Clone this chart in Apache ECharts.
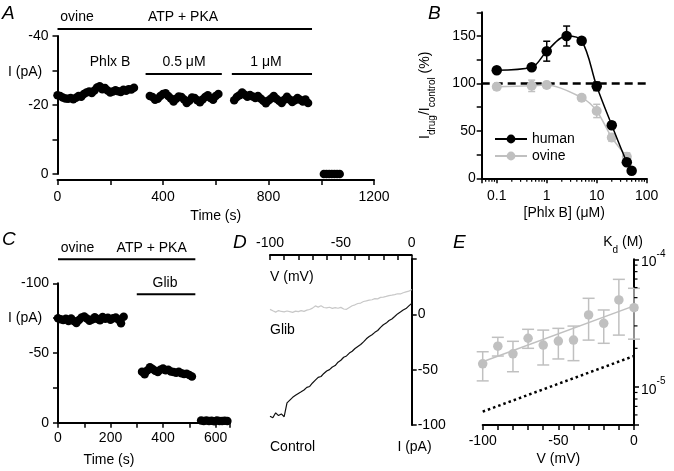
<!DOCTYPE html>
<html>
<head>
<meta charset="utf-8">
<script src="https://cdn.jsdelivr.net/npm/echarts@6/dist/echarts.min.js"></script>
<style>
  html, body { margin: 0; padding: 0; background: #fff; }
  #chart { width: 674px; height: 471px; }
</style>
</head>
<body>
<div id="chart"></div>
<script>
// ---- Panel A: ovine current (pA) vs time (s) ----
const aControl = [[0,-22.8],[10,-22.6],[20,-22.2],[30,-21.9],[40,-21.8],[50,-22.0],[60,-21.7],[70,-22.1],[80,-22.6],[90,-22.4],
  [100,-23.2],[110,-23.6],[120,-23.9],[130,-23.5],[140,-24.2],[150,-25.1],[160,-25.4],[170,-24.6],[180,-24.9],[190,-24.2],
  [200,-23.6],[210,-23.9],[220,-24.3],[230,-24.0],[240,-23.8],[250,-24.4],[260,-24.1],[270,-24.6],[280,-24.5],[290,-25.0]];
const aHalfMicro = [[350,-22.6],[360,-22.3],[370,-21.5],[380,-21.8],[390,-22.6],[400,-23.2],[410,-23.4],[420,-22.6],[430,-21.9],
  [440,-21.0],[450,-21.8],[460,-22.5],[470,-22.3],[480,-21.6],[490,-20.6],[500,-21.2],[510,-22.2],[520,-22.0],[530,-21.4],
  [540,-20.8],[550,-21.6],[560,-22.3],[570,-22.8],[580,-22.0],[590,-21.5],[600,-22.6],[610,-23.2]];
const aOneMicro = [[670,-21.4],[680,-22.3],[690,-22.8],[700,-23.6],[710,-23.0],[720,-22.4],[730,-22.9],[740,-22.5],[750,-22.0],
  [760,-22.6],[770,-21.9],[780,-21.2],[790,-20.5],[800,-21.3],[810,-21.9],[820,-22.6],[830,-21.8],[840,-21.2],[850,-20.6],
  [860,-21.5],[870,-22.4],[880,-21.6],[890,-20.9],[900,-21.4],[910,-22.0],[920,-21.5],[930,-21.0],[940,-21.6],[950,-20.6]];
const aBlocked = [[1010,0],[1020,0],[1030,0],[1040,0],[1050,0],[1060,0],[1070,0]];
// treatment bars: [from (s), to (s), level (pA)]
const aPeriods = [[0,965,-42],[334,623,-29],[661,965,-29]];

// ---- Panel B: Idrug/Icontrol (%) vs [Phlx B] (uM) ----
const bHumanConc = [0.1, 0.5, 1, 2.5, 5, 10, 20, 40, 50];
const bHuman     = [114, 117, 134, 150, 145, 97, 56, 17, 8];
const bHumanErr  = [2, 3, 10.5, 10.5, 3, 4.5, 3, 3, 2];
const bOvineConc = [0.1, 0.5, 1, 5, 10, 20, 40];
const bOvine     = [96.5, 97.5, 98.3, 85, 71, 43, 22.8];
const bOvineErr  = [3, 6, 3, 3, 7, 4, 4];
const bMinorTicks = [0.06,0.07,0.08,0.09,0.2,0.3,0.4,0.5,0.6,0.7,0.8,0.9,2,3,4,5,6,7,8,9,20,30,40,50,60,70,80,90];

// ---- Panel C: ovine current with glibenclamide ----
const cControl = [[0,-75.0],[10,-74.2],[20,-73.6],[30,-74.5],[40,-73.0],[50,-74.8],[60,-72.9],[70,-71.5],[80,-73.6],[90,-75.5],
  [100,-76.2],[110,-74.8],[120,-73.2],[130,-74.0],[140,-75.6],[150,-74.4],[160,-73.5],[170,-75.8],[180,-74.6],[190,-75.2],
  [200,-73.8],[210,-74.9],[220,-75.5],[230,-74.1],[240,-71.3],[250,-76.0]];
const cGlib = [[320,-36.5],[330,-34.8],[340,-37.5],[350,-39.8],[360,-38.6],[370,-37.2],[380,-36.4],[390,-37.9],[400,-38.8],
  [410,-37.6],[420,-37.9],[430,-36.8],[440,-36.3],[450,-35.9],[460,-36.5],[470,-35.4],[480,-35.0],[490,-35.2],[500,-34.3],[510,-33.2]];
const cBlocked = [[545,-1.5],[555,-1.2],[565,-1.6],[575,-1.3],[585,-1.4],[595,-1.1],[605,-1.5],[615,-1.3],[625,-1.2],[635,-1.4],[645,-1.3]];
const cPeriods = [[0,523,-117.2],[300,523,-92.1]];

// ---- Panel D: I-V ramps ----
const dVolt = [-100,-98,-96,-94,-92,-90,-88,-86,-84,-82,-80,-78,-76,-74,-72,-70,-68,-66,-64,-62,-60,-58,-56,-54,-52,
  -50,-48,-46,-44,-42,-40,-38,-36,-34,-32,-30,-28,-26,-24,-22,-20,-18,-16,-14,-12,-10,-8,-6,-4,-2,0];
const dGlib = [4.5,3.2,2.0,3.4,2.6,2.2,3.0,2.4,1.8,2.9,2.4,3.3,2.7,3.8,4.4,5.6,7.6,6.5,7.8,6.2,5.8,6.4,5.4,6.0,5.5,
  6.3,4.8,4.5,6.2,7.8,8.6,9.8,10.2,11.6,12.1,12.8,13.2,14.2,14.0,15.3,15.6,16.2,16.9,17.3,17.8,18.6,18.4,19.5,20.3,20.9,22.4];
const dControl = [-92.0,-93.5,-89.0,-91.5,-90.0,-92.5,-80.0,-77.5,-75.0,-73.2,-71.5,-70.0,-68.4,-66.0,-65.2,-62.0,-59.5,-57.0,
  -56.2,-53.4,-51.2,-50.0,-47.6,-46.3,-43.2,-41.5,-38.8,-37.6,-35.0,-33.4,-30.9,-29.0,-27.3,-24.9,-22.1,-20.0,-18.4,-16.3,
  -14.6,-11.8,-9.4,-7.9,-5.6,-4.2,-2.0,0.4,2.1,3.9,5.2,7.6,9.9];

// ---- Panel E: Kd (M) vs V (mV) ----
const eVolt   = [-100, -90, -80, -70, -60, -50, -40, -30, -20, -10, 0];
const eKd     = [1.51e-5, 2.08e-5, 1.81e-5, 2.40e-5, 2.12e-5, 2.28e-5, 2.32e-5, 3.66e-5, 3.14e-5, 4.80e-5, 4.17e-5];
const eKdLow  = [1.11e-5, 1.74e-5, 1.31e-5, 2.00e-5, 1.48e-5, 1.65e-5, 1.60e-5, 2.32e-5, 2.19e-5, 2.54e-5, 2.36e-5];
const eKdHigh = [1.88e-5, 2.44e-5, 2.27e-5, 2.82e-5, 2.78e-5, 2.87e-5, 2.99e-5, 4.94e-5, 4.00e-5, 6.96e-5, 5.92e-5];
const eFitVolt = [-100, 0];
const eFitKd   = [1.57e-5, 4.31e-5];
const eHumanKd = [6.37e-6, 1.74e-5];
const eMinorTicks = [6e-6,7e-6,8e-6,9e-6,2e-5,3e-5,4e-5,5e-5,6e-5,7e-5,8e-5,9e-5];

const FONT = '"Liberation Sans", Arial, sans-serif';
const BLACK = '#000';
const GREY = '#c0c0c0';

const chart = echarts.init(document.getElementById('chart'), null, { renderer: 'canvas' });

// axis builder, all axes share the same black Origin-like look
function axis(o) {
  return {
    gridIndex: o.grid, type: o.type || 'value', position: o.position,
    min: o.min, max: o.max, interval: o.interval, inverse: !!o.inverse, offset: o.offset || 0,
    logBase: 10,
    name: o.name, nameLocation: 'middle', nameGap: o.nameGap, nameRotate: o.nameRotate,
    nameTextStyle: Object.assign({ color: BLACK, fontSize: 14, fontFamily: FONT }, o.nameStyle || {}),
    axisLine: { show: true, onZero: false, lineStyle: { color: BLACK, width: 2 } },
    axisTick: { show: true, inside: !!o.tickInside, length: 5, lineStyle: { color: BLACK, width: 1.5 } },
    axisLabel: { show: true, color: BLACK, fontSize: 14, fontFamily: FONT, margin: o.margin == null ? 8 : o.margin,
      formatter: o.fmt, rich: o.rich, hideOverlap: false },
    splitLine: { show: false },
    minorTick: { show: false }
  };
}

function errorBarItem(capHalf, color) {
  return function (params, api) {
    const x = api.value(0);
    const lo = api.coord([x, api.value(1)]);
    const hi = api.coord([x, api.value(2)]);
    const style = { stroke: color, lineWidth: 1.5 };
    return { type: 'group', children: [
      { type: 'line', shape: { x1: hi[0], y1: hi[1], x2: lo[0], y2: lo[1] }, style: style },
      { type: 'line', shape: { x1: hi[0] - capHalf, y1: hi[1], x2: hi[0] + capHalf, y2: hi[1] }, style: style },
      { type: 'line', shape: { x1: lo[0] - capHalf, y1: lo[1], x2: lo[0] + capHalf, y2: lo[1] }, style: style }
    ]};
  };
}

function periodBarItem(params, api) {
  const a = api.coord([api.value(0), api.value(2)]);
  const b = api.coord([api.value(1), api.value(2)]);
  return { type: 'line', shape: { x1: a[0], y1: a[1], x2: b[0], y2: b[1] }, style: { stroke: BLACK, lineWidth: 2 } };
}

// minor ticks for the log axes (dx, dy = tick direction in px)
function minorTickItem(dx, dy) {
  return function (params, api) {
    const p = api.coord([api.value(0), api.value(1)]);
    return { type: 'line', shape: { x1: p[0], y1: p[1], x2: p[0] + dx, y2: p[1] + dy }, style: { stroke: BLACK, lineWidth: 1.2 } };
  };
}

function txt(x, y, text, align, extra) {
  return { type: 'text', x: x, y: y, silent: true, z: 10,
    style: Object.assign({ text: text, fill: BLACK, font: '14px ' + FONT,
      align: align || 'left', textAlign: align || 'left', verticalAlign: 'middle', textVerticalAlign: 'middle' }, extra || {}) };
}
function letter(x, y, s) {
  return txt(x, y, s, 'left', { font: 'italic 19px ' + FONT });
}

const pow10Label = function (v) {
  const e = Math.log10(v);
  return Math.abs(e - Math.round(e)) < 1e-6 ? '{b|10}{s|' + Math.round(e) + '}' : '';
};

const dot = { color: BLACK, opacity: 1 };

const option = {
  backgroundColor: '#fff',
  animation: false,
  textStyle: { fontFamily: FONT },
  grid: [
    { left: 57.5, right: 300, top: 36, bottom: 297 },      // A
    { left: 481.7, right: 27.3, top: 12.3, bottom: 292.7 }, // B
    { left: 58, right: 444, top: 283.3, bottom: 48.3 },    // C
    { left: 270, right: 262.3, top: 259, bottom: 46 },     // D
    { left: 482.7, right: 40, top: 259.3, bottom: 46 }     // E
  ],
  xAxis: [
    axis({ grid: 0, min: 0, max: 1200, interval: 200, offset: 6, margin: 10,
      fmt: v => (v % 400 === 0 ? String(v) : ''), name: 'Time (s)', nameGap: 29 }),
    axis({ grid: 1, type: 'log', min: 0.05, max: 100, margin: 11,
      fmt: v => { const e = Math.log10(v); return Math.abs(e - Math.round(e)) < 1e-6 ? String(+v.toPrecision(3)) : ''; },
      name: '[Phlx B] (\u03bcM)', nameGap: 28 }),
    axis({ grid: 2, min: 0, max: 655, interval: 100, margin: 8,
      fmt: v => (v % 200 === 0 ? String(v) : '') }),
    axis({ grid: 3, position: 'top', min: -100, max: 0, interval: 10, offset: 4, tickInside: true, margin: 5,
      fmt: v => (v % 50 === 0 ? String(v) : '') }),
    axis({ grid: 4, min: -100, max: 0, interval: 10, margin: 9,
      fmt: v => (v % 50 === 0 ? String(v) : ''), name: 'V (mV)', nameGap: 27 })
  ],
  yAxis: [
    axis({ grid: 0, min: -40, max: 0, interval: 10, inverse: true, margin: 9,
      fmt: v => (v % 20 === 0 ? String(v) : '') }),
    axis({ grid: 1, min: 0, max: 175, interval: 25, margin: 6,
      fmt: v => (v % 50 === 0 && v <= 150 ? String(v) : ''),
      name: '{m|I}{s|drug}{m|/I}{s|control}{m| (%)}', nameGap: 44, nameRotate: 90,
      nameStyle: { rich: {
        m: { fontSize: 14, fontFamily: FONT, color: BLACK, lineHeight: 20, verticalAlign: 'top' },
        s: { fontSize: 10, fontFamily: FONT, color: BLACK, lineHeight: 12, verticalAlign: 'bottom' } } } }),
    axis({ grid: 2, min: -100, max: 0, interval: 25, inverse: true, margin: 9,
      fmt: v => (v % 50 === 0 ? String(v) : '') }),
    axis({ grid: 3, position: 'right', min: -100, max: 50, interval: 50, margin: 6,
      fmt: v => (v <= 0 ? String(v) : '') }),
    axis({ grid: 4, type: 'log', position: 'right', min: 5e-6, max: 1e-4, margin: 7, fmt: pow10Label,
      rich: {
        b: { fontSize: 14, fontFamily: FONT, color: BLACK, lineHeight: 20, verticalAlign: 'bottom' },
        s: { fontSize: 10, fontFamily: FONT, color: BLACK, lineHeight: 12, verticalAlign: 'top' } } })
  ],
  legend: {
    orient: 'vertical', left: 489, top: 127, itemWidth: 32, itemHeight: 11, itemGap: 3,
    textStyle: { color: BLACK, fontSize: 14, fontFamily: FONT },
    data: ['human', 'ovine']
  },
  series: [
    // A
    { type: 'scatter', xAxisIndex: 0, yAxisIndex: 0, symbolSize: 8.5, itemStyle: dot, data: aControl },
    { type: 'scatter', xAxisIndex: 0, yAxisIndex: 0, symbolSize: 8.5, itemStyle: dot, data: aHalfMicro },
    { type: 'scatter', xAxisIndex: 0, yAxisIndex: 0, symbolSize: 8.5, itemStyle: dot, data: aOneMicro },
    { type: 'scatter', xAxisIndex: 0, yAxisIndex: 0, symbolSize: 8.5, itemStyle: dot, data: aBlocked },
    { type: 'custom', xAxisIndex: 0, yAxisIndex: 0, renderItem: periodBarItem, encode: { x: [0, 1], y: 2 }, silent: true, data: aPeriods },

    // B
    { type: 'custom', xAxisIndex: 1, yAxisIndex: 1, renderItem: errorBarItem(3.5, GREY), encode: { x: 0, y: [1, 2] }, z: 1,
      data: bOvineConc.map((c, i) => [c, bOvine[i] - bOvineErr[i], bOvine[i] + bOvineErr[i]]) },
    { name: 'ovine', type: 'line', xAxisIndex: 1, yAxisIndex: 1, smooth: 0.3, symbol: 'circle', symbolSize: 10, z: 2,
      itemStyle: { color: GREY }, lineStyle: { color: GREY, width: 1.5 },
      data: bOvineConc.map((c, i) => [c, bOvine[i]]) },
    { type: 'custom', xAxisIndex: 1, yAxisIndex: 1, renderItem: errorBarItem(3.5, BLACK), encode: { x: 0, y: [1, 2] }, z: 3,
      data: bHumanConc.map((c, i) => [c, bHuman[i] - bHumanErr[i], bHuman[i] + bHumanErr[i]]) },
    { name: 'human', type: 'line', xAxisIndex: 1, yAxisIndex: 1, smooth: 0.35, symbol: 'circle', symbolSize: 10.5, z: 4,
      itemStyle: { color: BLACK }, lineStyle: { color: BLACK, width: 1.5 },
      data: bHumanConc.map((c, i) => [c, bHuman[i]]),
      markLine: { silent: true, symbol: 'none', label: { show: false }, z: 0,
        lineStyle: { color: BLACK, type: [8, 5], width: 2.5 }, data: [{ yAxis: 100 }] } },
    { type: 'custom', xAxisIndex: 1, yAxisIndex: 1, renderItem: minorTickItem(0, 3.5), encode: { x: 0, y: 1 }, silent: true,
      data: bMinorTicks.map(v => [v, 0]) },

    // C
    { type: 'scatter', xAxisIndex: 2, yAxisIndex: 2, symbolSize: 8.5, itemStyle: dot, data: cControl },
    { type: 'scatter', xAxisIndex: 2, yAxisIndex: 2, symbolSize: 8.5, itemStyle: dot, data: cGlib },
    { type: 'scatter', xAxisIndex: 2, yAxisIndex: 2, symbolSize: 8.5, itemStyle: dot, data: cBlocked },
    { type: 'custom', xAxisIndex: 2, yAxisIndex: 2, renderItem: periodBarItem, encode: { x: [0, 1], y: 2 }, silent: true, data: cPeriods },

    // D
    { type: 'line', xAxisIndex: 3, yAxisIndex: 3, symbol: 'none', lineStyle: { color: '#c8c8c8', width: 1.2 },
      data: dVolt.map((v, i) => [v, dGlib[i]]) },
    { type: 'line', xAxisIndex: 3, yAxisIndex: 3, symbol: 'none', lineStyle: { color: '#111', width: 1.2 },
      data: dVolt.map((v, i) => [v, dControl[i]]) },

    // E
    { type: 'line', xAxisIndex: 4, yAxisIndex: 4, symbol: 'none', lineStyle: { color: GREY, width: 1.5 },
      data: eFitVolt.map((v, i) => [v, eFitKd[i]]) },
    { type: 'line', xAxisIndex: 4, yAxisIndex: 4, symbol: 'none', lineStyle: { color: BLACK, width: 2.5, type: [2.5, 3] },
      data: eFitVolt.map((v, i) => [v, eHumanKd[i]]) },
    { type: 'custom', xAxisIndex: 4, yAxisIndex: 4, renderItem: errorBarItem(6, GREY), encode: { x: 0, y: [1, 2] },
      data: eVolt.map((v, i) => [v, eKdLow[i], eKdHigh[i]]) },
    { type: 'scatter', xAxisIndex: 4, yAxisIndex: 4, symbolSize: 9.5, itemStyle: { color: GREY, opacity: 1 },
      data: eVolt.map((v, i) => [v, eKd[i]]) },
    { type: 'custom', xAxisIndex: 4, yAxisIndex: 4, renderItem: minorTickItem(3.5, 0), encode: { x: 0, y: 1 }, silent: true,
      data: eMinorTicks.map(v => [0, v]) }
  ],
  graphic: [
    letter(2, 14, 'A'),
    txt(77, 16.7, 'ovine', 'center'),
    txt(183, 16.7, 'ATP + PKA', 'center'),
    txt(110, 62.5, 'Phlx B', 'center'),
    txt(184, 62.5, '0.5 \u03bcM', 'center'),
    txt(266, 62.5, '1 \u03bcM', 'center'),
    txt(8, 71.7, 'I (pA)', 'left'),

    letter(428, 14, 'B'),

    letter(2, 240, 'C'),
    txt(77.5, 248.3, 'ovine', 'center'),
    txt(151.7, 248.3, 'ATP + PKA', 'center'),
    txt(165, 283.3, 'Glib', 'center'),
    txt(8, 318.3, 'I (pA)', 'left'),
    txt(109, 460, 'Time (s)', 'center'),

    letter(233, 243, 'D'),
    txt(270, 276.7, 'V (mV)', 'left'),
    txt(270, 330, 'Glib', 'left'),
    txt(270, 446.7, 'Control', 'left'),
    txt(414.5, 446.7, 'I (pA)', 'center'),

    letter(453, 243, 'E'),
    { type: 'text', x: 643, y: 245, silent: true,
      style: { text: '{m|K}{s|d}{m| (M)}', align: 'right', textAlign: 'right', verticalAlign: 'middle', textVerticalAlign: 'middle',
        rich: {
          m: { fontSize: 14, fontFamily: FONT, fill: BLACK, color: BLACK, lineHeight: 20, verticalAlign: 'top' },
          s: { fontSize: 10, fontFamily: FONT, fill: BLACK, color: BLACK, lineHeight: 12, verticalAlign: 'bottom' } } } }
  ]
};

chart.setOption(option);
window.addEventListener('resize', () => chart.resize());
</script>
</body>
</html>
